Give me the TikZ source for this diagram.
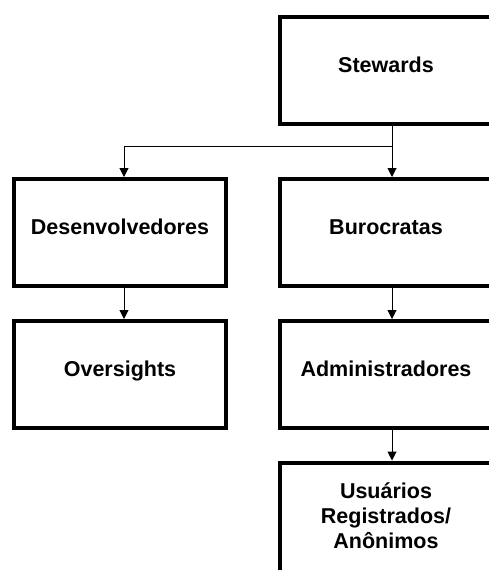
\documentclass[tikz,border=0pt]{standalone}
\usepackage{fontspec}
\setmainfont{Liberation Sans}
\usetikzlibrary{arrows.meta}

\begin{document}
\begin{tikzpicture}[x=1pt,y=-1pt]
\tikzset{cargo/.style={draw, line width=4pt, minimum width=212pt, minimum height=107pt,
  align=center, font=\fontsize{21.5}{25}\selectfont\bfseries, text height=15pt, text depth=11pt}}
\tikzset{seta/.style={line width=1pt, -{Triangle[width=9pt,length=9pt]}}}
\clip (0,0) rectangle (489,570);
\fill[white] (0,0) rectangle (489,570);
\node[cargo] (stew) at (386,70.5) {Stewards};
\node[cargo] (desenv) at (120,232.5) {Desenvolvedores};
\node[cargo] (buro) at (386,232.5) {Burocratas};
\node[cargo] (over) at (120,374.5) {Oversights};
\node[cargo] (admin) at (386,374.5) {Administradores};
\node[cargo, text height=, text depth=, minimum height=117pt] (user) at (386,521)
  {Usuários\\Registrados/\\Anônimos\\[-14pt]\mbox{}};
\coordinate (ramo) at ([xshift=6pt]stew.south |- 0,146);
\draw[line width=1pt] ([xshift=6pt]stew.south) -- (ramo);
\draw[seta] (ramo) -- ([xshift=6pt]buro.north);
\draw[seta] (ramo) -| ([xshift=4pt]desenv.north);
\draw[seta] ([xshift=4pt]desenv.south) -- ([xshift=4pt]over.north);
\draw[seta] ([xshift=6pt]buro.south) -- ([xshift=6pt]admin.north);
\draw[seta] ([xshift=6pt]admin.south) -- ([xshift=6pt]user.north);
\end{tikzpicture}
\end{document}
